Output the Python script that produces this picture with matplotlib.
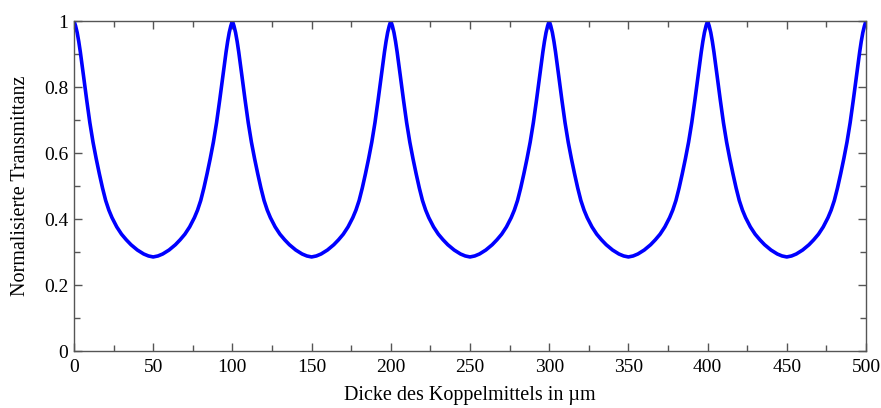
import matplotlib
matplotlib.use("Agg")
import matplotlib.pyplot as plt
from matplotlib.ticker import MultipleLocator, FixedLocator, FixedFormatter

plt.rcParams['font.family'] = ['Liberation Serif', 'DejaVu Serif']
plt.rcParams['mathtext.fontset'] = 'stix'

thickness_um = [
    0, 1, 2, 3, 4, 5, 6, 7, 8, 9, 10, 12, 14, 16, 18, 20, 22, 24, 27, 30, 33, 36, 40, 44, 47,
    50, 53, 56, 60, 64, 67, 70, 73, 76, 78, 80, 82, 84, 86, 88, 90, 91, 92, 93, 94, 95, 96, 97, 98, 99,
    100, 101, 102, 103, 104, 105, 106, 107, 108, 109, 110, 112, 114, 116, 118, 120, 122, 124, 127, 130, 133, 136, 140, 144, 147,
    150, 153, 156, 160, 164, 167, 170, 173, 176, 178, 180, 182, 184, 186, 188, 190, 191, 192, 193, 194, 195, 196, 197, 198, 199,
    200, 201, 202, 203, 204, 205, 206, 207, 208, 209, 210, 212, 214, 216, 218, 220, 222, 224, 227, 230, 233, 236, 240, 244, 247,
    250, 253, 256, 260, 264, 267, 270, 273, 276, 278, 280, 282, 284, 286, 288, 290, 291, 292, 293, 294, 295, 296, 297, 298, 299,
    300, 301, 302, 303, 304, 305, 306, 307, 308, 309, 310, 312, 314, 316, 318, 320, 322, 324, 327, 330, 333, 336, 340, 344, 347,
    350, 353, 356, 360, 364, 367, 370, 373, 376, 378, 380, 382, 384, 386, 388, 390, 391, 392, 393, 394, 395, 396, 397, 398, 399,
    400, 401, 402, 403, 404, 405, 406, 407, 408, 409, 410, 412, 414, 416, 418, 420, 422, 424, 427, 430, 433, 436, 440, 444, 447,
    450, 453, 456, 460, 464, 467, 470, 473, 476, 478, 480, 482, 484, 486, 488, 490, 491, 492, 493, 494, 495, 496, 497, 498, 499,
    500,
]

# Normalised transmittance
transmittance = [
    1.000, 0.985, 0.965, 0.938, 0.906, 0.871, 0.834, 0.797, 0.761, 0.726, 0.692, 0.633, 0.583, 0.537, 0.494, 0.456, 0.427, 0.404, 0.376, 0.354, 0.337, 0.322, 0.306, 0.294, 0.288,
    0.285, 0.288, 0.294, 0.306, 0.322, 0.337, 0.354, 0.376, 0.404, 0.427, 0.456, 0.494, 0.537, 0.583, 0.633, 0.692, 0.726, 0.761, 0.797, 0.834, 0.871, 0.906, 0.938, 0.965, 0.985,
    1.000, 0.985, 0.965, 0.938, 0.906, 0.871, 0.834, 0.797, 0.761, 0.726, 0.692, 0.633, 0.583, 0.537, 0.494, 0.456, 0.427, 0.404, 0.376, 0.354, 0.337, 0.322, 0.306, 0.294, 0.288,
    0.285, 0.288, 0.294, 0.306, 0.322, 0.337, 0.354, 0.376, 0.404, 0.427, 0.456, 0.494, 0.537, 0.583, 0.633, 0.692, 0.726, 0.761, 0.797, 0.834, 0.871, 0.906, 0.938, 0.965, 0.985,
    1.000, 0.985, 0.965, 0.938, 0.906, 0.871, 0.834, 0.797, 0.761, 0.726, 0.692, 0.633, 0.583, 0.537, 0.494, 0.456, 0.427, 0.404, 0.376, 0.354, 0.337, 0.322, 0.306, 0.294, 0.288,
    0.285, 0.288, 0.294, 0.306, 0.322, 0.337, 0.354, 0.376, 0.404, 0.427, 0.456, 0.494, 0.537, 0.583, 0.633, 0.692, 0.726, 0.761, 0.797, 0.834, 0.871, 0.906, 0.938, 0.965, 0.985,
    1.000, 0.985, 0.965, 0.938, 0.906, 0.871, 0.834, 0.797, 0.761, 0.726, 0.692, 0.633, 0.583, 0.537, 0.494, 0.456, 0.427, 0.404, 0.376, 0.354, 0.337, 0.322, 0.306, 0.294, 0.288,
    0.285, 0.288, 0.294, 0.306, 0.322, 0.337, 0.354, 0.376, 0.404, 0.427, 0.456, 0.494, 0.537, 0.583, 0.633, 0.692, 0.726, 0.761, 0.797, 0.834, 0.871, 0.906, 0.938, 0.965, 0.985,
    1.000, 0.985, 0.965, 0.938, 0.906, 0.871, 0.834, 0.797, 0.761, 0.726, 0.692, 0.633, 0.583, 0.537, 0.494, 0.456, 0.427, 0.404, 0.376, 0.354, 0.337, 0.322, 0.306, 0.294, 0.288,
    0.285, 0.288, 0.294, 0.306, 0.322, 0.337, 0.354, 0.376, 0.404, 0.427, 0.456, 0.494, 0.537, 0.583, 0.633, 0.692, 0.726, 0.761, 0.797, 0.834, 0.871, 0.906, 0.938, 0.965, 0.985,
    1.000,
]

x_ticks = [0, 50, 100, 150, 200, 250, 300, 350, 400, 450, 500]
x_tick_labels = ["0", "50", "100", "150", "200", "250", "300", "350", "400", "450", "500"]
y_ticks = [0, 0.2, 0.4, 0.6, 0.8, 1.0]
y_tick_labels = ["0", "0.2", "0.4", "0.6", "0.8", "1"]

fig = plt.figure(figsize=(8.81, 4.08), dpi=100)
ax = fig.add_axes([74 / 881, 1 - 351 / 408, (866 - 74) / 881, (351 - 21) / 408])

ax.plot(thickness_um, transmittance, color="#0000FF", linewidth=2.6,
        solid_joinstyle="round", solid_capstyle="round")

ax.set_xlim(0, 500)
ax.set_ylim(0, 1)
ax.xaxis.set_major_locator(FixedLocator(x_ticks))
ax.xaxis.set_major_formatter(FixedFormatter(x_tick_labels))
ax.yaxis.set_major_locator(FixedLocator(y_ticks))
ax.yaxis.set_major_formatter(FixedFormatter(y_tick_labels))
ax.xaxis.set_minor_locator(MultipleLocator(25))
ax.yaxis.set_minor_locator(MultipleLocator(0.1))

spine_col = "#555555"
for s in ax.spines.values():
    s.set_color(spine_col)
    s.set_linewidth(1.0)

ax.tick_params(which="both", direction="in", top=True, right=True, colors=spine_col,
               labelcolor="black", labelsize=14)
ax.tick_params(which="major", length=5.5, width=1.0)
ax.tick_params(which="minor", length=4, width=1.0)
ax.tick_params(axis="x", which="major", pad=6)
ax.tick_params(axis="y", which="major", pad=4)

ax.set_xlabel("Dicke des Koppelmittels in µm", fontsize=14.5, labelpad=7)
ax.set_ylabel("Normalisierte Transmittanz", fontsize=14.5, labelpad=10)

fig.savefig("out.png", dpi=100)
